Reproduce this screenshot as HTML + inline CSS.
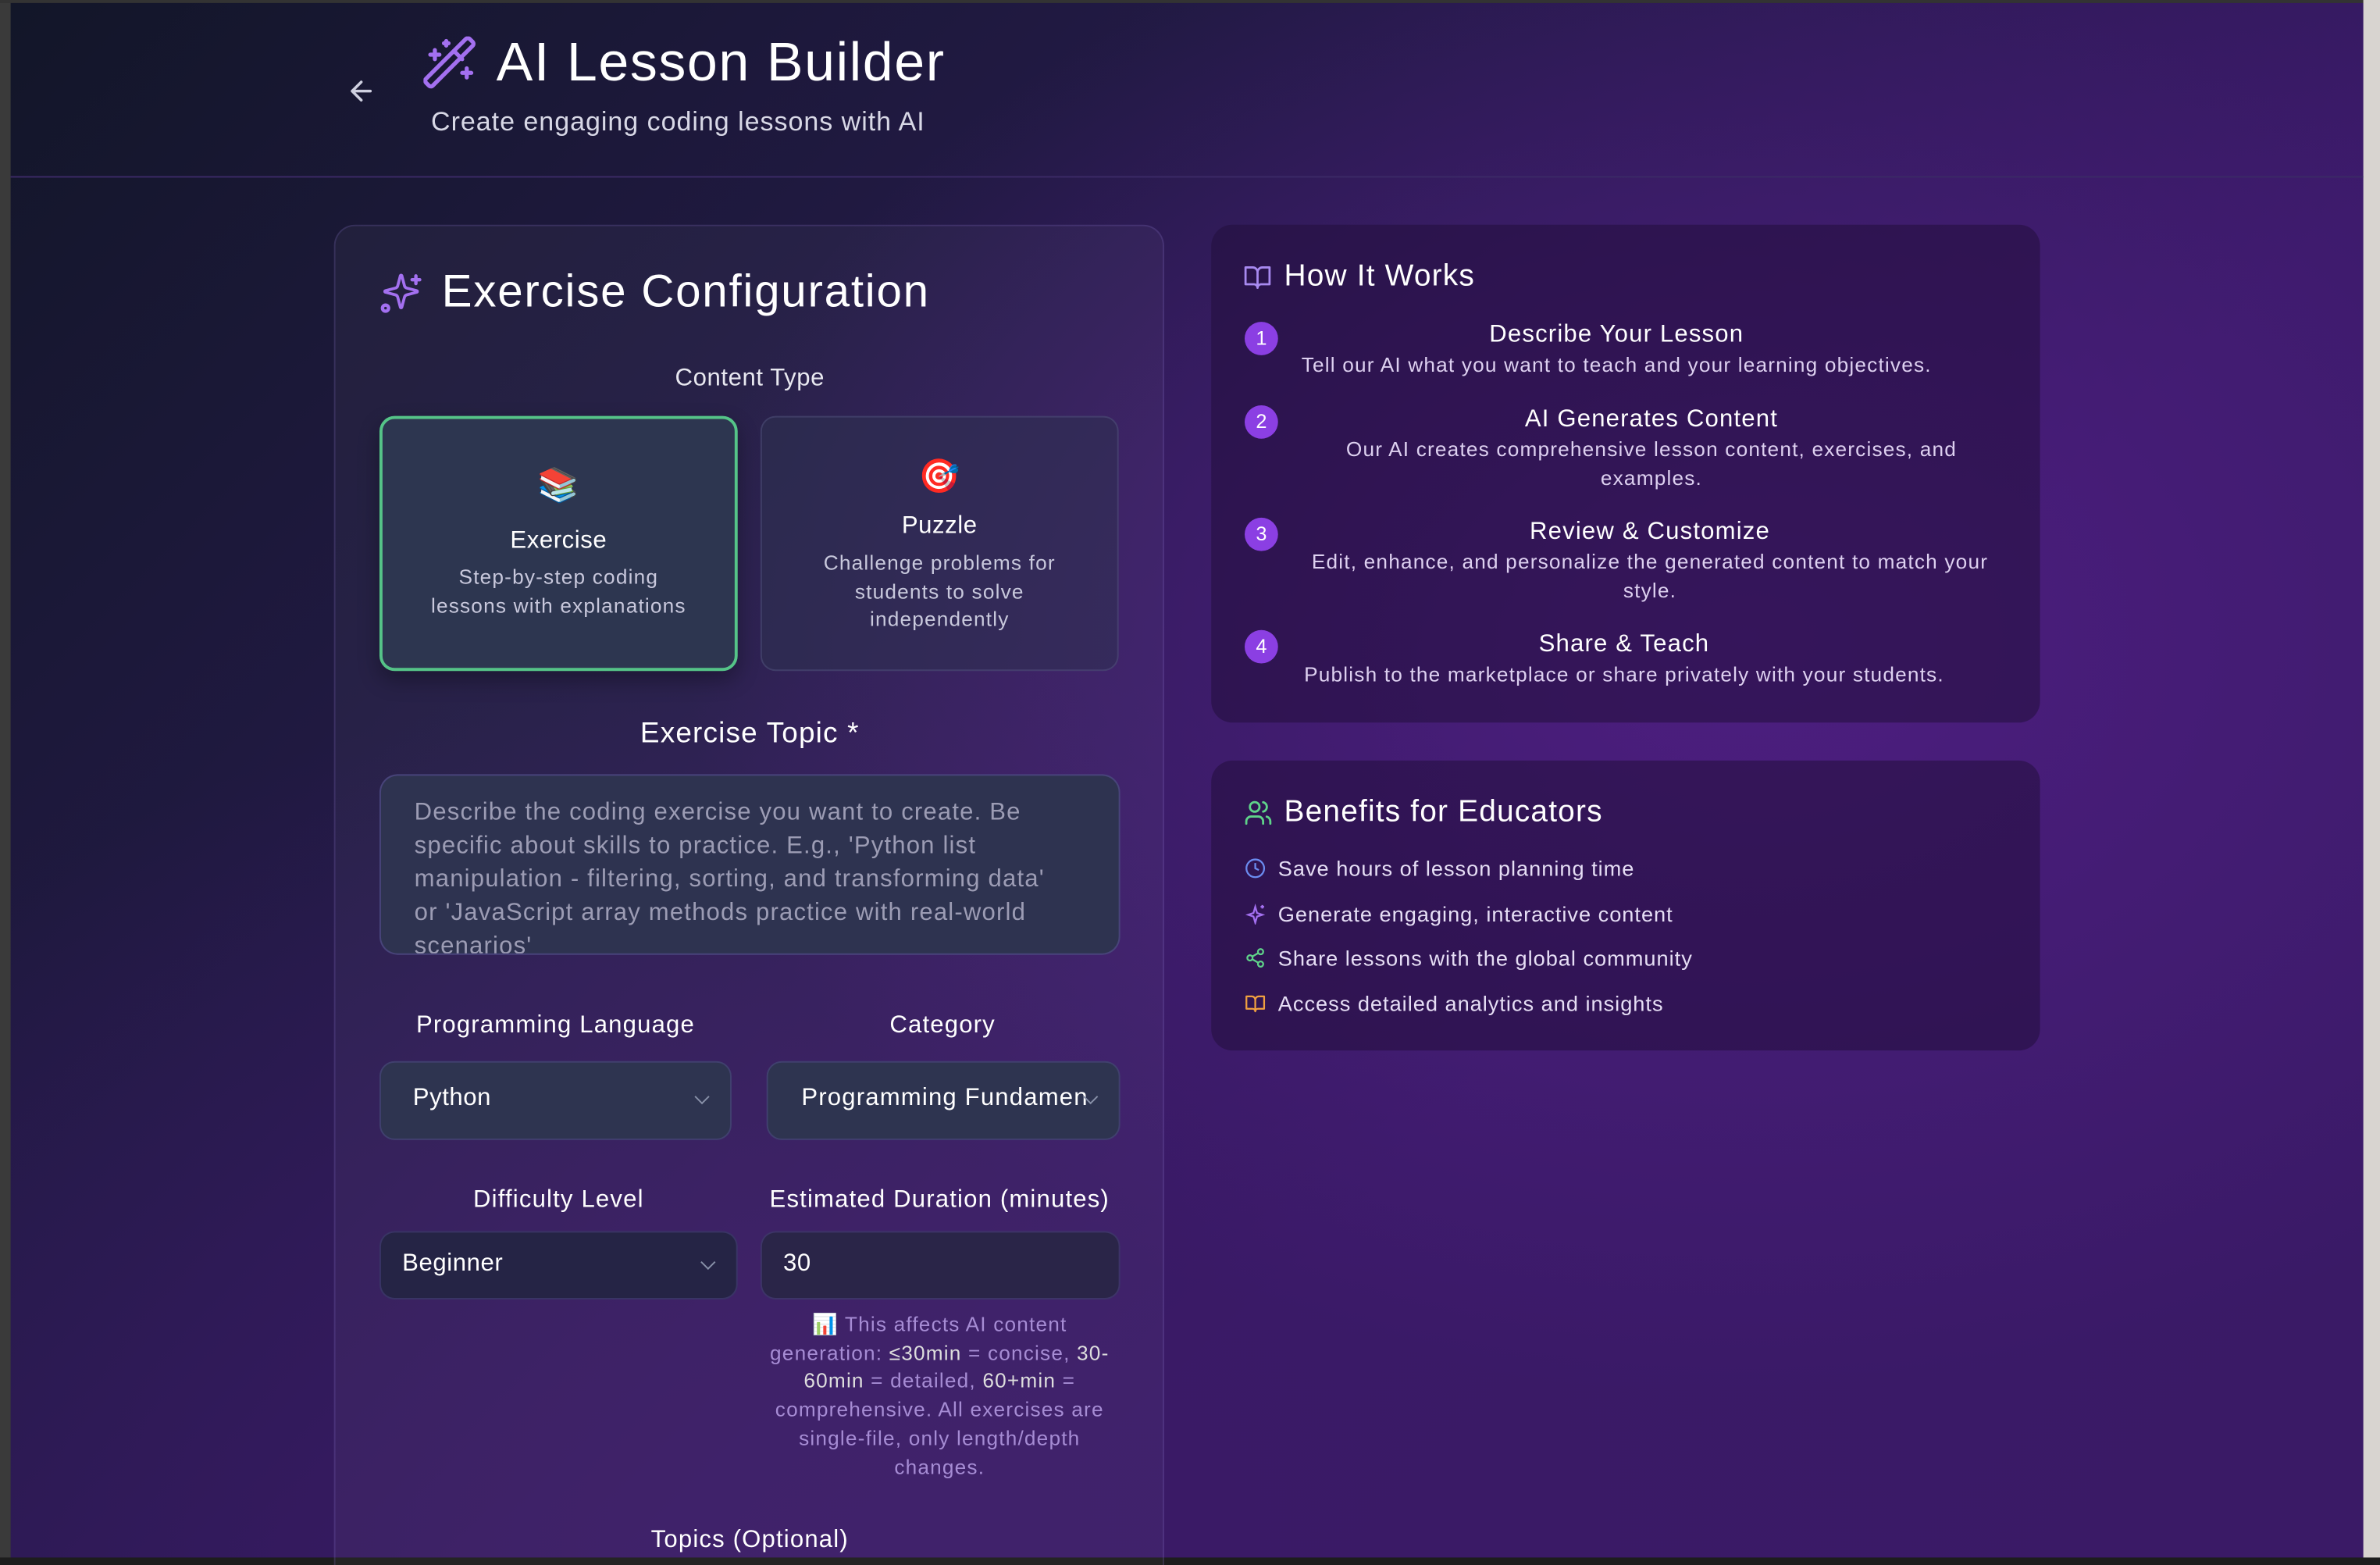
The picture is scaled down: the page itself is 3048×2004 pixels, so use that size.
<!DOCTYPE html>
<html><head><meta charset="utf-8"><style>
*{margin:0;padding:0;box-sizing:border-box}
html,body{width:3048px;height:2004px;overflow:hidden;background:#1a1530}
#w{position:absolute;left:0;top:0;width:1568px;height:1031px;transform:scale(1.94388);transform-origin:0 0;overflow:hidden;
font-family:"Liberation Sans",sans-serif;color:#fff;letter-spacing:.3px;
background:radial-gradient(ellipse 700px 500px at 1150px 420px,#4d1e80 0%,rgba(77,30,128,0) 100%),
radial-gradient(ellipse 900px 600px at 600px 1031px,#3a1a66 0%,rgba(58,26,102,0) 100%),
linear-gradient(135deg,#121628 0%,#241a48 35%,#3a1a68 65%,#3a1a66 100%)}
.a{position:absolute;white-space:nowrap}
.c{position:absolute;transform:translate(-50%,-50%);white-space:nowrap;text-align:center}
.card{position:absolute;border-radius:14px}
.sel{position:absolute;border-radius:10px;border:1px solid rgba(120,100,200,.25)}
.chev{position:absolute;width:7px;height:7px;border-right:1.5px solid #8890a8;border-bottom:1.5px solid #8890a8;transform:rotate(45deg)}
.num{position:absolute;width:22px;height:22px;border-radius:50%;background:#8b3fe3;font-size:13px;line-height:22px;text-align:center;letter-spacing:0}
.t{font-size:16px;color:#fff}
.d{font-size:13.5px;color:#ddd0f0;line-height:18.5px}
.b{position:absolute;left:842px;font-size:14px;color:#e6def5;transform:translateY(-50%)}
</style></head><body><div id="w">
<div style="position:absolute;left:0;top:0;width:7px;height:1031px;background:#3a3a3a"></div>
<div style="position:absolute;left:0;top:0;width:1568px;height:2px;background:#333"></div>
<div style="position:absolute;left:1557px;top:0;width:11px;height:1031px;background:#d8d4d0"></div>
<div style="position:absolute;left:0;top:1026px;width:1568px;height:5px;background:#1d1d1d"></div>
<div style="position:absolute;left:7px;top:116px;width:1550px;height:1px;background:#3b2a66"></div>

<svg class="a" style="left:228px;top:50px" width="20" height="20" viewBox="0 0 20 20"><path d="M16 10H4M10 4L4 10l6 6" fill="none" stroke="#cfd0e0" stroke-width="1.8" stroke-linecap="round" stroke-linejoin="round"/></svg>
<svg class="a" style="left:279px;top:24px" width="36" height="36" viewBox="0 0 24 24" fill="none" stroke="#a370f0" stroke-width="1.8" stroke-linecap="round" stroke-linejoin="round"><path d="M21.6 2.4l-1.3-1.3a1.2 1.2 0 0 0-1.7 0L1.1 18.6a1.2 1.2 0 0 0 0 1.7l1.3 1.3a1.2 1.2 0 0 0 1.7 0L21.6 4.1a1.2 1.2 0 0 0 0-1.7zM14 7l3 3M5 6v4M19 14v4M10 2v2M7 8H3M21 16h-4M11 3H9"/></svg>
<div class="a" style="left:327px;top:19px;font-size:36px;line-height:44px;letter-spacing:.8px">AI Lesson Builder</div>
<div class="a" style="left:284px;top:70px;font-size:17.5px;color:#d8d8e6;letter-spacing:.5px">Create engaging coding lessons with AI</div>

<div class="card" style="left:220px;top:148px;width:547px;height:900px;background:rgba(255,255,255,.035);border:1px solid rgba(130,110,200,.22)"></div>
<svg class="a" style="left:249px;top:178px" width="30" height="30" viewBox="0 0 24 24" fill="none" stroke="#a370f0" stroke-width="1.8" stroke-linecap="round" stroke-linejoin="round"><path d="M9.9 15.5A2 2 0 0 0 8.5 14.1l-6.1-1.6a.5.5 0 0 1 0-1l6.1-1.6A2 2 0 0 0 9.9 8.5l1.6-6.1a.5.5 0 0 1 1 0l1.6 6.1a2 2 0 0 0 1.4 1.4l6.1 1.6a.5.5 0 0 1 0 1l-6.1 1.6a2 2 0 0 0-1.4 1.4l-1.6 6.1a.5.5 0 0 1-1 0z" transform="translate(2,1) scale(.85)"/><path d="M20 3v4M22 5h-4"/><circle cx="4" cy="20" r="1.6"/></svg>
<div class="a" style="left:291px;top:174px;font-size:30px;line-height:38px;letter-spacing:.9px">Exercise Configuration</div>
<div class="c" style="left:494px;top:250px;font-size:16px;color:#e8e8f0">Content Type</div>

<div class="card" style="left:250px;top:274px;width:236px;height:168px;background:#2d3650;border:2px solid #55c488;border-radius:10px;box-shadow:0 6px 14px rgba(0,0,0,.3)"></div>
<div class="c" style="left:368px;top:320px;font-size:22px">📚</div>
<div class="c" style="left:368px;top:357px;font-size:16px">Exercise</div>
<div class="c" style="left:368px;top:390px;font-size:13.5px;color:#c8c8dc;line-height:18.5px;letter-spacing:.6px">Step-by-step coding<br>lessons with explanations</div>

<div class="card" style="left:501px;top:274px;width:236px;height:168px;background:rgba(45,50,80,.55);border:1px solid rgba(100,100,150,.35);border-radius:10px"></div>
<div class="c" style="left:619px;top:314px;font-size:22px">🎯</div>
<div class="c" style="left:619px;top:347px;font-size:16px">Puzzle</div>
<div class="c" style="left:619px;top:390px;font-size:13.5px;color:#c8c8dc;line-height:18.5px;letter-spacing:.6px">Challenge problems for<br>students to solve<br>independently</div>

<div class="c" style="left:494px;top:484px;font-size:19px;letter-spacing:.6px">Exercise Topic *</div>
<div class="card" style="left:250px;top:510px;width:488px;height:119px;background:#2e3350;border:1px solid rgba(120,100,200,.35);border-radius:12px;overflow:hidden">
<div style="position:absolute;left:22px;top:14px;width:470px;font-size:16px;line-height:22px;color:#9c9cb4;white-space:nowrap;letter-spacing:.6px">Describe the coding exercise you want to create. Be<br>specific about skills to practice. E.g., 'Python list<br>manipulation - filtering, sorting, and transforming data'<br>or 'JavaScript array methods practice with real-world<br>scenarios'</div></div>

<div class="c" style="left:366px;top:676px;font-size:16px;letter-spacing:.6px">Programming Language</div>
<div class="c" style="left:621px;top:676px;font-size:16px;letter-spacing:.6px">Category</div>
<div class="sel" style="left:250px;top:699px;width:232px;height:52px;background:#2e3450"></div>
<div class="a" style="left:272px;top:715px;font-size:16px">Python</div>
<div class="chev" style="left:459px;top:719px"></div>
<div class="sel" style="left:505px;top:699px;width:233px;height:52px;background:#2e3450;overflow:hidden"><div class="a" style="left:22px;top:15px;font-size:16px;width:188px;overflow:hidden;letter-spacing:.6px">Programming Fundamentals</div></div>
<div class="chev" style="left:715px;top:719px"></div>

<div class="c" style="left:368px;top:791px;font-size:16px;letter-spacing:.6px">Difficulty Level</div>
<div class="c" style="left:619px;top:791px;font-size:16px;letter-spacing:.6px">Estimated Duration (minutes)</div>
<div class="sel" style="left:250px;top:811px;width:236px;height:45px;background:#252445"></div>
<div class="a" style="left:265px;top:824px;font-size:16px">Beginner</div>
<div class="chev" style="left:463px;top:828px"></div>
<div class="sel" style="left:501px;top:811px;width:237px;height:45px;background:#2a2548"></div>
<div class="a" style="left:516px;top:824px;font-size:16px">30</div>
<div class="c" style="left:619px;top:920px;font-size:13.5px;line-height:18.7px;color:#a68cd4;letter-spacing:.6px">📊 This affects AI content<br>generation: <span style="color:#ddd">≤30min</span> = concise, <span style="color:#ddd">30-</span><br><span style="color:#ddd">60min</span> = detailed, <span style="color:#ddd">60+min</span> =<br>comprehensive. All exercises are<br>single-file, only length/depth<br>changes.</div>
<div class="c" style="left:494px;top:1015px;font-size:16px;letter-spacing:.6px">Topics (Optional)</div>

<div class="card" style="left:798px;top:148px;width:546px;height:328px;background:rgba(35,15,60,.55)"></div>
<svg class="a" style="left:819px;top:173px" width="19" height="19" viewBox="0 0 24 24" fill="none" stroke="#a88af0" stroke-width="1.8" stroke-linejoin="round"><path d="M2 4h6a4 4 0 0 1 4 4v13a3 3 0 0 0-3-3H2zM22 4h-6a4 4 0 0 0-4 4v13a3 3 0 0 1 3-3h7z"/></svg>
<div class="a" style="left:846px;top:171px;font-size:20px;letter-spacing:.6px">How It Works</div>
<div class="num" style="left:820px;top:212px">1</div>
<div class="num" style="left:820px;top:267px">2</div>
<div class="num" style="left:820px;top:341px">3</div>
<div class="num" style="left:820px;top:415px">4</div>
<div class="c t" style="left:1065px;top:221px;letter-spacing:.6px">Describe Your Lesson</div>
<div class="c d" style="left:1065px;top:241px;letter-spacing:.6px">Tell our AI what you want to teach and your learning objectives.</div>
<div class="c t" style="left:1088px;top:277px;letter-spacing:.6px">AI Generates Content</div>
<div class="c d" style="left:1088px;top:306px;letter-spacing:.6px">Our AI creates comprehensive lesson content, exercises, and<br>examples.</div>
<div class="c t" style="left:1087px;top:351px;letter-spacing:.6px">Review &amp; Customize</div>
<div class="c d" style="left:1087px;top:380px;letter-spacing:.6px">Edit, enhance, and personalize the generated content to match your<br>style.</div>
<div class="c t" style="left:1070px;top:425px;letter-spacing:.6px">Share &amp; Teach</div>
<div class="c d" style="left:1070px;top:445px;letter-spacing:.6px">Publish to the marketplace or share privately with your students.</div>

<div class="card" style="left:798px;top:501px;width:546px;height:191px;background:rgba(35,15,60,.55)"></div>
<svg class="a" style="left:819px;top:526px" width="20" height="19" viewBox="0 0 24 24" fill="none" stroke="#5fd38a" stroke-width="1.8" stroke-linecap="round"><circle cx="9" cy="7" r="4"/><path d="M2 21v-2a4 4 0 0 1 4-4h6a4 4 0 0 1 4 4v2M16 3.1a4 4 0 0 1 0 7.8M22 21v-2a4 4 0 0 0-3-3.9"/></svg>
<div class="a" style="left:846px;top:524px;font-size:20px;letter-spacing:.6px">Benefits for Educators</div>
<svg class="a" style="left:820px;top:565px" width="14" height="14" viewBox="0 0 24 24" fill="none" stroke="#6b8cf0" stroke-width="2"><circle cx="12" cy="12" r="10"/><path d="M12 6v6l4 2"/></svg>
<div class="b" style="top:572px;letter-spacing:.5px">Save hours of lesson planning time</div>
<svg class="a" style="left:820px;top:595px" width="14" height="14" viewBox="0 0 24 24" fill="none" stroke="#a370f0" stroke-width="2"><path d="M10 15l-6-2 6-2 2-7 2 7 6 2-6 2-2 7z"/><path d="M20 2v4M22 4h-4"/></svg>
<div class="b" style="top:602px;letter-spacing:.5px">Generate engaging, interactive content</div>
<svg class="a" style="left:820px;top:624px" width="14" height="14" viewBox="0 0 24 24" fill="none" stroke="#5fd38a" stroke-width="2"><circle cx="18" cy="5" r="3"/><circle cx="6" cy="12" r="3"/><circle cx="18" cy="19" r="3"/><path d="M8.6 13.5l6.8 4M15.4 6.5l-6.8 4"/></svg>
<div class="b" style="top:631px;letter-spacing:.5px">Share lessons with the global community</div>
<svg class="a" style="left:820px;top:654px" width="14" height="14" viewBox="0 0 24 24" fill="none" stroke="#f0a040" stroke-width="2" stroke-linejoin="round"><path d="M2 4h6a4 4 0 0 1 4 4v13a3 3 0 0 0-3-3H2zM22 4h-6a4 4 0 0 0-4 4v13a3 3 0 0 1 3-3h7z"/></svg>
<div class="b" style="top:661px;letter-spacing:.5px">Access detailed analytics and insights</div>
</div></body></html>
